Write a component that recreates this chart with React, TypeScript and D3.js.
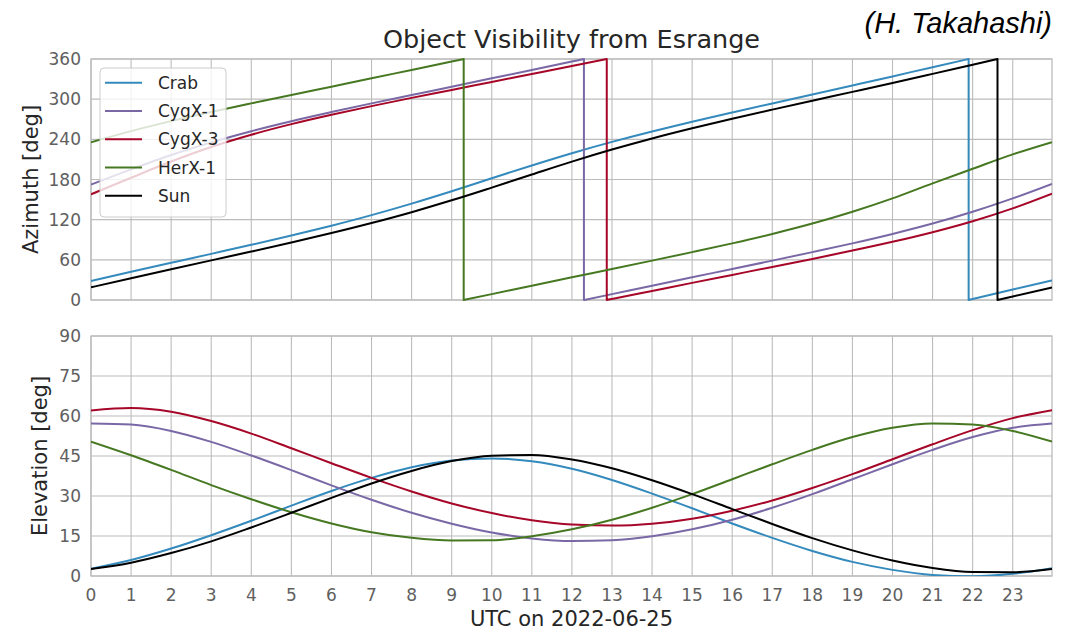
import React from "react";
import * as d3 from "d3";

// ---- data ----
const hours = [0, 1, 2, 3, 4, 5, 6, 7, 8, 9, 10, 11, 12, 13, 14, 15, 16, 17, 18, 19, 20, 21, 22, 23, 23.98];
const names = ["Crab", "CygX-1", "CygX-3", "HerX-1", "Sun"];
const colors = ["#348ABD", "#7A68A6", "#A60628", "#467821", "#000000"];

const crabAz = [28.5, 42.1, 55.5, 68.9, 82.4, 96.3, 111.0, 126.8, 144.0, 162.5, 181.8, 201.0, 219.3, 236.2, 251.8, 266.3, 280.1, 293.6, 306.9, 320.4, 334.0, 347.8, 1.4, 15.6, 29.2];
const cygx1Az = [172.5, 195.1, 216.5, 235.5, 252.2, 267.1, 280.7, 293.7, 306.2, 318.6, 331.1, 343.6, 356.2, 8.8, 21.4, 33.9, 46.3, 58.8, 71.5, 84.6, 98.7, 114.2, 131.8, 151.8, 173.5];
const cygx3Az = [157.9, 182.6, 206.9, 228.6, 246.9, 262.7, 276.7, 289.6, 301.9, 313.8, 325.8, 337.7, 349.6, 1.6, 13.6, 25.6, 37.5, 49.4, 61.4, 73.8, 86.9, 101.3, 117.7, 136.9, 158.9];
const herx1Az = [235.6, 252.3, 267.2, 280.8, 293.7, 306.3, 318.7, 331.1, 343.7, 356.2, 8.8, 21.4, 33.9, 46.3, 58.8, 71.5, 84.6, 98.7, 114.2, 131.8, 151.8, 174.3, 196.0, 217.5, 235.8];
const sunAz = [18.9, 32.5, 45.9, 59.2, 72.4, 85.9, 100.0, 115.0, 131.2, 148.9, 167.9, 187.4, 206.7, 224.7, 241.3, 256.5, 270.8, 284.4, 297.7, 310.9, 324.2, 337.8, 351.5, 5.2, 18.7];
// hour where each azimuth passes north (360 -> 0)
const wrapHours = [21.9, 12.3, 12.87, 9.3, 22.62];

const crabEl = [2.75, 6.0, 10.3, 15.3, 20.7, 26.4, 31.9, 36.8, 40.8, 43.3, 44.1, 43.0, 40.2, 36.0, 30.9, 25.4, 19.7, 14.3, 9.4, 5.3, 2.3, 0.4, -0.1, 0.8, 2.9];
const cygx1El = [57.2, 56.8, 54.4, 50.3, 45.2, 39.7, 34.0, 28.6, 23.7, 19.6, 16.3, 14.1, 13.1, 13.4, 14.9, 17.5, 21.1, 25.6, 30.7, 36.3, 41.9, 47.3, 52.1, 55.6, 57.2];
const cygx3El = [62.1, 63.0, 61.6, 58.1, 53.4, 47.9, 42.3, 36.8, 31.7, 27.2, 23.6, 20.9, 19.3, 18.9, 19.6, 21.5, 24.5, 28.3, 33.0, 38.2, 43.8, 49.4, 54.7, 59.2, 62.2];
const herx1El = [50.4, 45.3, 39.8, 34.1, 28.8, 23.9, 19.7, 16.4, 14.3, 13.3, 13.4, 14.9, 17.5, 21.1, 25.6, 30.7, 36.3, 41.9, 47.3, 52.1, 55.6, 57.2, 56.8, 54.4, 50.4];
const sunEl = [2.6, 5.0, 8.6, 13.0, 18.2, 23.7, 29.3, 34.7, 39.4, 43.1, 45.1, 45.4, 43.7, 40.4, 35.9, 30.7, 25.1, 19.5, 14.2, 9.6, 5.8, 3.0, 1.5, 1.4, 2.6];

const azSeries = [crabAz, cygx1Az, cygx3Az, herx1Az, sunAz];
const elSeries = [crabEl, cygx1El, cygx3El, herx1El, sunEl];

const xTicks = d3.range(0, 24);
const azTicks = [0, 60, 120, 180, 240, 300, 360];
const elTicks = [0, 15, 30, 45, 60, 75, 90];

// ---- layout ----
const W = 1079, H = 635;
const L = 91, R = 1052;
const T1 = 59, B1 = 300, T2 = 336, B2 = 576;
const FONT = "DejaVu Sans, sans-serif";
const GRID = "#bcbcbc";
const TICK_C = "#606060";
const LABEL_C = "#262626";

export default function App() {
  const x = d3.scaleLinear().domain([0, 23.98]).range([L, R]);
  const yAz = d3.scaleLinear().domain([0, 360]).range([B1, T1]);
  const yEl = d3.scaleLinear().domain([0, 90]).range([B2, T2]);

  const lineAz = d3.line<[number, number]>().x(d => x(d[0])).y(d => yAz(d[1])).curve(d3.curveMonotoneX);
  const lineEl = d3.line<[number, number]>().x(d => x(d[0])).y(d => yEl(d[1])).curve(d3.curveMonotoneX);

  const azPath = (vals: number[], wrap: number) => {
    const pts: [number, number][] = hours.map((h, i) => [h, vals[i]]);
    const before = pts.filter(p => p[0] < wrap).concat([[wrap, 360]]);
    const after = ([[wrap, 0]] as [number, number][]).concat(pts.filter(p => p[0] > wrap));
    return (lineAz(before) || "") + (lineAz(after) || "").replace(/^M/, "L");
  };
  const elPath = (vals: number[]) => lineEl(hours.map((h, i) => [h, vals[i]] as [number, number])) || "";

  const grid = (top: number, bot: number, yTicks: number[], ys: (v: number) => number) => (
    <g>
      {xTicks.map(t => (
        <line key={"gx" + t} x1={x(t)} x2={x(t)} y1={top} y2={bot} stroke={GRID} strokeWidth={1.1} />
      ))}
      {yTicks.map(t => (
        <line key={"gy" + t} x1={L} x2={R} y1={ys(t)} y2={ys(t)} stroke={GRID} strokeWidth={1.1} />
      ))}
      <rect x={L} y={top} width={R - L} height={bot - top} fill="none" stroke={GRID} strokeWidth={1.3} />
    </g>
  );

  return (
    <svg width={W} height={H} style={{ display: "block", position: "absolute", left: 0, top: 0 }} fontFamily={FONT}>
      <defs>
        <clipPath id="c1"><rect x={L} y={T1 - 1} width={R - L} height={B1 - T1 + 2} /></clipPath>
        <clipPath id="c2"><rect x={L} y={T2} width={R - L} height={B2 - T2} /></clipPath>
      </defs>
      <rect x={0} y={0} width={W} height={H} fill="#fff" />

      {/* title + credit */}
      <text x={(L + R) / 2} y={48} textAnchor="middle" fontSize={25.5} fill={LABEL_C}>Object Visibility from Esrange</text>
      <text x={1052} y={33} textAnchor="end" fontSize={29} fontStyle="italic" fontFamily="Liberation Sans, Arial, sans-serif" fill="#000">(H. Takahashi)</text>

      {/* top panel */}
      {grid(T1, B1, azTicks, yAz)}
      <g clipPath="url(#c1)">
        {azSeries.map((s, i) => (
          <path key={"az" + i} d={azPath(s, wrapHours[i])} fill="none" stroke={colors[i]} strokeWidth={2} strokeLinejoin="round" />
        ))}
      </g>
      {azTicks.map(t => (
        <text key={"ay" + t} x={81} y={yAz(t)} dy="0.36em" textAnchor="end" fontSize={17} fill={TICK_C}>{t}</text>
      ))}
      <text transform={`translate(38,${(T1 + B1) / 2}) rotate(-90)`} textAnchor="middle" fontSize={21} fill={LABEL_C}>Azimuth [deg]</text>

      {/* legend */}
      <g>
        <rect x={100} y={68} width={126} height={149} rx={4} fill="#fff" fillOpacity={0.8} stroke="#cccccc" strokeWidth={1} />
        {names.map((n, i) => (
          <g key={"lg" + n}>
            <line x1={105} x2={142} y1={82.7 + i * 28.25} y2={82.7 + i * 28.25} stroke={colors[i]} strokeWidth={2} />
            <text x={158} y={82.7 + i * 28.25} dy="0.36em" fontSize={17} fill={LABEL_C}>{n}</text>
          </g>
        ))}
      </g>

      {/* bottom panel */}
      {grid(T2, B2, elTicks, yEl)}
      <g clipPath="url(#c2)">
        {elSeries.map((s, i) => (
          <path key={"el" + i} d={elPath(s)} fill="none" stroke={colors[i]} strokeWidth={2} strokeLinejoin="round" />
        ))}
      </g>
      {elTicks.map(t => (
        <text key={"ey" + t} x={81} y={yEl(t)} dy="0.36em" textAnchor="end" fontSize={17} fill={TICK_C}>{t}</text>
      ))}
      {xTicks.map(t => (
        <text key={"xt" + t} x={x(t)} y={601} textAnchor="middle" fontSize={17} fill={TICK_C}>{t}</text>
      ))}
      <text transform={`translate(47,${(T2 + B2) / 2}) rotate(-90)`} textAnchor="middle" fontSize={21} fill={LABEL_C}>Elevation [deg]</text>
      <text x={(L + R) / 2} y={626} textAnchor="middle" fontSize={21} fill={LABEL_C}>UTC on 2022-06-25</text>
    </svg>
  );
}
